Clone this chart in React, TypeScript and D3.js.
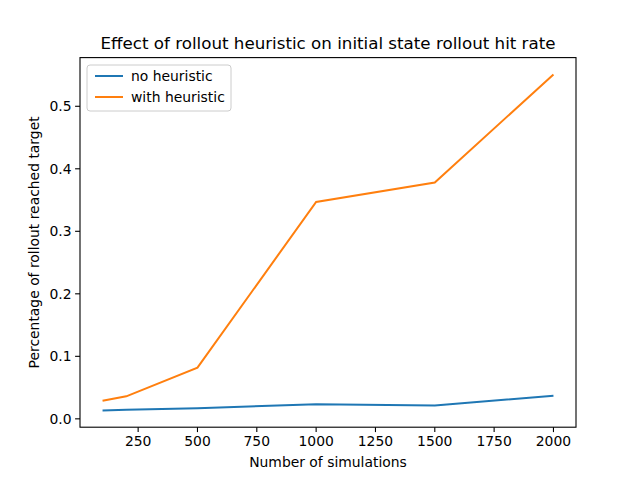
import * as d3 from "d3";

const sims = [100, 200, 500, 1000, 1500, 2000];
const noHeuristic = [0.0135, 0.0145, 0.017, 0.0235, 0.0215, 0.037];
const withHeuristic = [0.029, 0.036, 0.082, 0.347, 0.378, 0.551];
const xTicks = [250, 500, 750, 1000, 1250, 1500, 1750, 2000];
const yTicks = [0, 0.1, 0.2, 0.3, 0.4, 0.5];

const W = 640, H = 480;
const L = 80, R = 576, T = 57.6, B = 427.2;

export default function App() {
  const x = d3.scaleLinear().domain([5, 2095]).range([L, R]);
  const all = [...noHeuristic, ...withHeuristic];
  const lo = d3.min(all)!, hi = d3.max(all)!;
  const pad = (hi - lo) * 0.05;
  const y = d3.scaleLinear().domain([lo - pad, hi + pad]).range([B, T]);
  const line = (vals: number[]) =>
    d3.line<number>().x((_, i) => x(sims[i])).y((v) => y(v))(vals)!;
  const font = "DejaVu Sans";
  const fs = 13.9;
  return (
    <svg width={W} height={H} style={{ position: "absolute", left: 0, top: 0 }} fontFamily={font}>
      <rect width={W} height={H} fill="#fff" />
      <text x={(L + R) / 2} y={49} textAnchor="middle" fontSize={16.7}>
        Effect of rollout heuristic on initial state rollout hit rate
      </text>
      {xTicks.map((t) => (
        <g key={t}>
          <line x1={x(t)} x2={x(t)} y1={B} y2={B + 4.9} stroke="#000" strokeWidth={1.1} />
          <text x={x(t)} y={B + 19} textAnchor="middle" fontSize={fs}>{t}</text>
        </g>
      ))}
      {yTicks.map((t) => (
        <g key={t}>
          <line x1={L - 4.9} x2={L} y1={y(t)} y2={y(t)} stroke="#000" strokeWidth={1.1} />
          <text x={L - 8.5} y={y(t) + 5} textAnchor="end" fontSize={fs}>{t.toFixed(1)}</text>
        </g>
      ))}
      <text x={(L + R) / 2} y={467} textAnchor="middle" fontSize={fs}>Number of simulations</text>
      <text transform={`translate(39,${(T + B) / 2}) rotate(-90)`} textAnchor="middle" fontSize={fs}>
        Percentage of rollout reached target
      </text>
      <path d={line(noHeuristic)} fill="none" stroke="#1f77b4" strokeWidth={2} />
      <path d={line(withHeuristic)} fill="none" stroke="#ff7f0e" strokeWidth={2} />
      <rect x={L} y={T} width={R - L} height={B - T} fill="none" stroke="#000" strokeWidth={1.1} />
      <g>
        <rect x={87} y={65} width={144} height={46} fill="#fff" stroke="#ccc" strokeWidth={1} rx={3} />
        <line x1={95} x2={123} y1={76} y2={76} stroke="#1f77b4" strokeWidth={2} />
        <text x={131} y={81} fontSize={fs}>no heuristic</text>
        <line x1={95} x2={123} y1={97} y2={97} stroke="#ff7f0e" strokeWidth={2} />
        <text x={131} y={102} fontSize={fs}>with heuristic</text>
      </g>
    </svg>
  );
}
